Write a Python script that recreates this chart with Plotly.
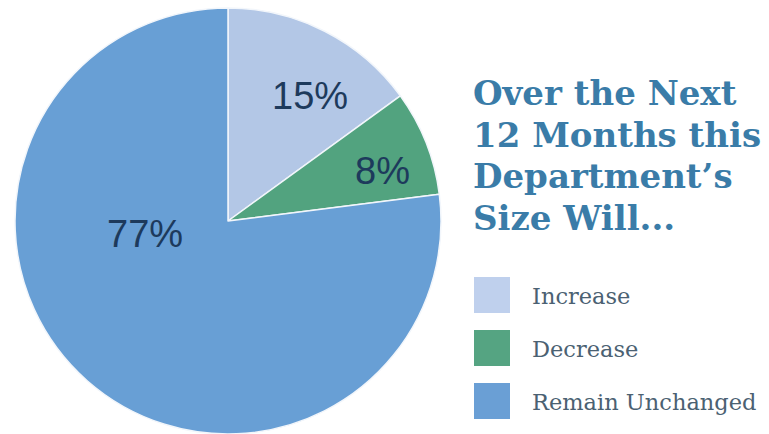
import plotly.graph_objects as go

# Survey result: expected change in department size over the next 12 months
categories = ["Increase", "Decrease", "Remain Unchanged"]
shares = [15, 8, 77]
colors = ["#b3c7e6", "#52a37f", "#689fd5"]
legend_colors = ["#bfd0ed", "#55a482", "#6a9fd5"]

title_lines = ["Over the Next", "12 Months this", "Department\u2019s", "Size Will..."]

W, H = 769, 434


def px(x):
    return x / W


def py(y):
    return 1 - y / H


fig = go.Figure()

# Pie on the left side of the canvas
fig.add_trace(go.Pie(
    labels=categories,
    values=shares,
    marker=dict(colors=colors, line=dict(color="#f2f6fb", width=1.5)),
    sort=False,
    direction="clockwise",
    rotation=0,
    textinfo="none",
    hoverinfo="label+percent",
    showlegend=False,
    domain=dict(x=[px(14), px(442)], y=[py(434), py(8)]),
))

# Percentage labels inside the slices
label_pos = [(310, 96), (382, 171), (145, 234)]
annotations = []
for v, (lx, ly) in zip(shares, label_pos):
    annotations.append(dict(
        x=px(lx), y=py(ly), xref="paper", yref="paper",
        text=f"{v}%", showarrow=False,
        xanchor="center", yanchor="middle",
        font=dict(family="Liberation Sans, Arial, sans-serif", size=38, color="#1d3a5c"),
    ))

# Heading, one line at a time
baselines = [107, 149, 190, 232]
for line, b in zip(title_lines, baselines):
    annotations.append(dict(
        x=px(471), y=py(b + 8), xref="paper", yref="paper",
        text=f"<b>{line}</b>", showarrow=False,
        xanchor="left", yanchor="bottom",
        font=dict(family="DejaVu Serif", size=34, color="#3a7ca8"),
    ))

# Custom legend: swatch plus label
shapes = []
swatch_top = [277, 330, 383]
for cat, col, top in zip(categories, legend_colors, swatch_top):
    shapes.append(dict(
        type="rect", xref="paper", yref="paper",
        x0=px(474), x1=px(510), y0=py(top + 36), y1=py(top),
        fillcolor=col, line=dict(width=0),
    ))
    annotations.append(dict(
        x=px(530), y=py(top + 19), xref="paper", yref="paper",
        text=cat, showarrow=False,
        xanchor="left", yanchor="middle",
        font=dict(family="DejaVu Serif", size=22.5, color="#4b6172"),
    ))

fig.update_layout(
    width=W, height=H,
    margin=dict(l=0, r=0, t=0, b=0),
    paper_bgcolor="white",
    plot_bgcolor="white",
    annotations=annotations,
    shapes=shapes,
)

fig.write_html("out.html")
